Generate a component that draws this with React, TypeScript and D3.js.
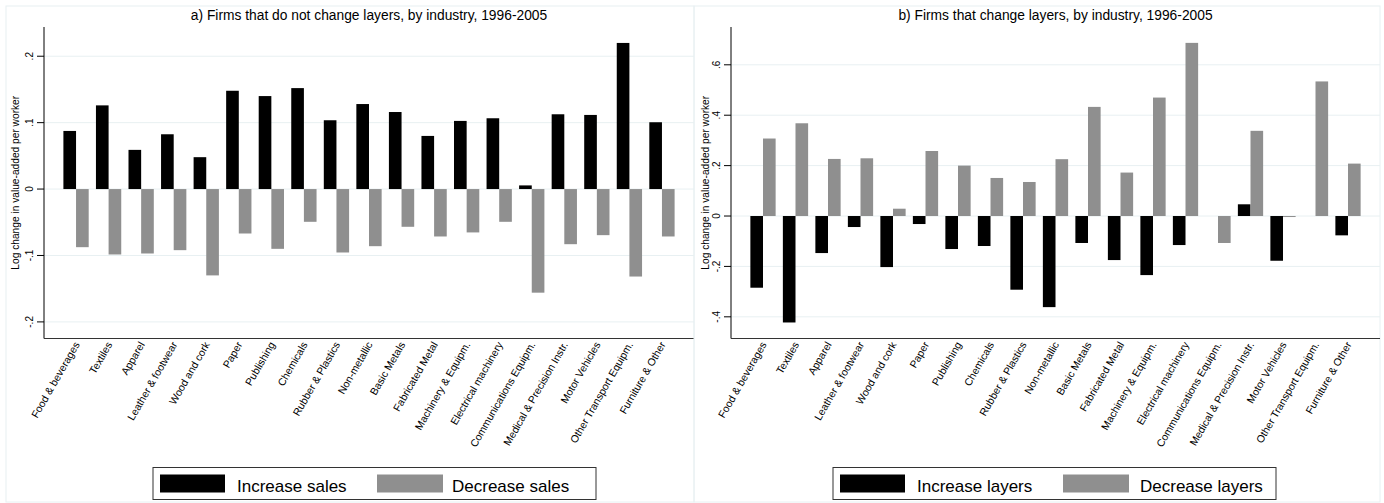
import React from "react";
import * as d3 from "d3";

const categories = [
  "Food & beverages", "Textiles", "Apparel", "Leather & footwear", "Wood and cork",
  "Paper", "Publishing", "Chemicals", "Rubber & Plastics", "Non-metallic",
  "Basic Metals", "Fabricated Metal", "Machinery & Equipm.", "Electrical machinery",
  "Communications Equipm.", "Medical & Precision Instr.", "Motor Vehicles",
  "Other Transport Equipm.", "Furniture & Other",
];

const increaseSales = [0.0875, 0.126, 0.059, 0.0825, 0.048, 0.148, 0.14, 0.152, 0.1036, 0.128, 0.116, 0.08, 0.1026, 0.1066, 0.0055, 0.1126, 0.1116, 0.22, 0.1006];
const decreaseSales = [-0.0875, -0.0985, -0.097, -0.092, -0.13, -0.0669, -0.09, -0.0493, -0.0955, -0.086, -0.0568, -0.0714, -0.0653, -0.0493, -0.156, -0.083, -0.0694, -0.1317, -0.0714];
const increaseLayers = [-0.2845, -0.4224, -0.147, -0.0437, -0.2026, -0.0318, -0.131, -0.119, -0.2924, -0.3615, -0.107, -0.1748, -0.2344, -0.1152, 0, 0.0465, -0.1775, 0, -0.0767];
const decreaseLayers = [0.3075, 0.368, 0.2265, 0.229, 0.029, 0.258, 0.2, 0.151, 0.135, 0.2255, 0.433, 0.1724, 0.47, 0.687, -0.107, 0.338, -0.004, 0.534, 0.208];

const ticksA = [-0.2, -0.1, 0, 0.1, 0.2];
const ticksB = [-0.4, -0.2, 0, 0.2, 0.4, 0.6];

const titleA = "a) Firms that do not change layers, by industry, 1996-2005";
const titleB = "b) Firms that change layers, by industry, 1996-2005";
const yTitle = "Log change in value-added per worker";
const legendA = ["Increase sales", "Decrease sales"];
const legendB = ["Increase layers", "Decrease layers"];

const FONT = "'Liberation Sans', Arial, Helvetica, sans-serif";
const GRID = "#e8f0f2";
const BLACK = "#000000";
const GRAY = "#8f8f8f";

function fmt(v: number) {
  if (v === 0) return "0";
  const s = String(Math.round(v * 10) / 10);
  return s.replace("0.", ".");
}

type PanelProps = {
  x0: number; x1: number; top: number; bottom: number;
  domain: [number, number]; ticks: number[];
  s1: number[]; s2: number[]; title: string; legend: string[];
  legX: number; legW: number; key2X: number; text2X: number;
  borderL: number; borderR: number; yTitleX: number;
};

function Panel(p: PanelProps) {
  const x = d3.scaleBand<string>().domain(categories).range([p.x0, p.x1]).paddingInner(0.223).paddingOuter(0.596);
  const y = d3.scaleLinear().domain(p.domain).range([p.bottom, p.top]);
  const half = x.bandwidth() / 2;
  const cx = (p.x0 + p.x1) / 2;
  const y0 = y(0);
  return (
    <g>
      <rect x={p.borderL} y={6} width={p.borderR - p.borderL} height={496} fill="none" stroke={GRID} strokeWidth={1} />
      {p.ticks.map((t) => (
        <line key={"g" + t} x1={p.x0} x2={p.x1} y1={y(t)} y2={y(t)} stroke={GRID} strokeWidth={1} />
      ))}
      {categories.map((c, i) => {
        const bx = x(c)!;
        const v1 = p.s1[i];
        const v2 = p.s2[i];
        return (
          <g key={c}>
            {v1 !== 0 && (
              <rect x={bx} width={half} y={Math.min(y(v1), y0)} height={Math.abs(y(v1) - y0)} fill={BLACK} />
            )}
            {v2 !== 0 && (
              <rect x={bx + half} width={half} y={Math.min(y(v2), y0)} height={Math.abs(y(v2) - y0)} fill={GRAY} />
            )}
          </g>
        );
      })}
      <line x1={p.x0} x2={p.x0} y1={p.top} y2={p.bottom} stroke="#000" strokeWidth={1} />
      <line x1={p.x0} x2={p.x1} y1={p.bottom} y2={p.bottom} stroke="#333" strokeWidth={1} />
      {p.ticks.map((t) => (
        <g key={"t" + t}>
          <line x1={p.x0 - 7} x2={p.x0} y1={y(t)} y2={y(t)} stroke="#000" strokeWidth={1} />
          <text transform={`translate(${p.x0 - 15},${y(t)}) rotate(-90)`} textAnchor="middle" dominantBaseline="central" fontSize={10} fontFamily={FONT} fill="#000">
            {fmt(t)}
          </text>
        </g>
      ))}
      <text transform={`translate(${p.yTitleX},${(p.top + p.bottom) / 2}) rotate(-90)`} textAnchor="middle" dominantBaseline="central" fontSize={10.2} fontFamily={FONT} fill="#000">
        {yTitle}
      </text>
      <text x={cx} y={19.5} textAnchor="middle" fontSize={13.8} fontFamily={FONT} fill="#000">{p.title}</text>
      {categories.map((c) => (
        <text key={"l" + c} transform={`translate(${x(c)! + half + 4},${p.bottom + 6}) rotate(-60)`} textAnchor="end" fontSize={10.5} fontFamily={FONT} fill="#000">
          {c}
        </text>
      ))}
      <rect x={p.legX} y={467.5} width={p.legW} height={32} fill="#fff" stroke="#333" strokeWidth={1} />
      <rect x={p.legX + 7} y={474.5} width={65} height={18} fill={BLACK} />
      <text x={p.legX + 84} y={491.5} fontSize={17} fontFamily={FONT} fill="#000">{p.legend[0]}</text>
      <rect x={p.key2X} y={474.5} width={66} height={18} fill={GRAY} />
      <text x={p.text2X} y={491.5} fontSize={17} fontFamily={FONT} fill="#000">{p.legend[1]}</text>
    </g>
  );
}

export default function App() {
  return (
    <svg width={1384} height={503} style={{ position: "absolute", left: 0, top: 0, background: "#fff" }}>
      <rect width={1384} height={503} fill="#fff" />
      <Panel x0={44} x1={694} top={27} bottom={338.5} domain={[-0.225, 0.244]} ticks={ticksA}
        s1={increaseSales} s2={decreaseSales} title={titleA} legend={legendA}
        legX={153} legW={443} key2X={377} text2X={452} borderL={6} borderR={694} yTitleX={15} />
      <Panel x0={731} x1={1380} top={27} bottom={338.5} domain={[-0.486, 0.75]} ticks={ticksB}
        s1={increaseLayers} s2={decreaseLayers} title={titleB} legend={legendB}
        legX={833} legW={443} key2X={1063} text2X={1140} borderL={694} borderR={1380} yTitleX={705} />
    </svg>
  );
}
